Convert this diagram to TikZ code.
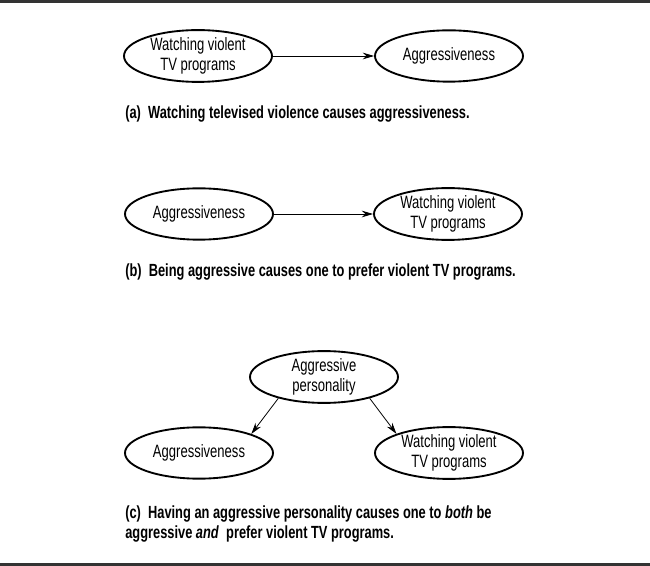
\documentclass[tikz,border=0pt]{standalone}
\usepackage{fontspec}
\setmainfont{Liberation Sans}[FakeStretch=0.73]
\usetikzlibrary{shapes.geometric,arrows.meta}
\begin{document}
\begin{tikzpicture}[x=0.75pt,y=-0.75pt,
  oval/.style={ellipse,draw=black,line width=1.4pt,minimum width=111pt,minimum height=38.5pt,
    inner sep=0pt,align=center,font=\fontsize{13.4}{15}\selectfont},
  conn/.style={-{Stealth[length=8.5pt,width=5pt]},line width=0.6pt},
  captxt/.style={anchor=base west,inner sep=0pt,align=left,
    font=\bfseries\fontsize{13.2}{14.3}\selectfont},
  rule/.style={fill=black!80}]
\useasboundingbox (0,0) rectangle (650,566);
\fill[rule] (0,0) rectangle (650,3);
\fill[rule] (0,563) rectangle (650,566);
% (a)
\node[oval] (a1) at (198,56) {Watching violent\\TV programs};
\node[oval] (a2) at (449,56) {Aggressiveness};
\draw[conn] (a1) -- (a2);
\node[captxt] (capa) at (125,119) {(a)\ \ Watching televised violence causes aggressiveness.};
% (b)
\node[oval] (b1) at (199,214) {Aggressiveness};
\node[oval] (b2) at (448,214) {Watching violent\\TV programs};
\draw[conn] (b1) -- (b2);
\node[captxt] (capb) at (125,277) {(b)\ \ Being aggressive causes one to prefer violent TV programs.};
% (c)
\node[oval] (c0) at (324,377) {Aggressive\\personality};
\node[oval] (c1) at (199,453) {Aggressiveness};
\node[oval] (c2) at (449,453) {Watching violent\\TV programs};
\draw[conn] (c0.205) -- (c1.20);
\draw[conn] (c0.335) -- (c2.160);
\node[captxt] (capc) at (125,538) {(c)\ \ Having an aggressive personality causes one to \textit{both} be\\aggressive \textit{and}\ \ prefer violent TV programs.};
\end{tikzpicture}
\end{document}
